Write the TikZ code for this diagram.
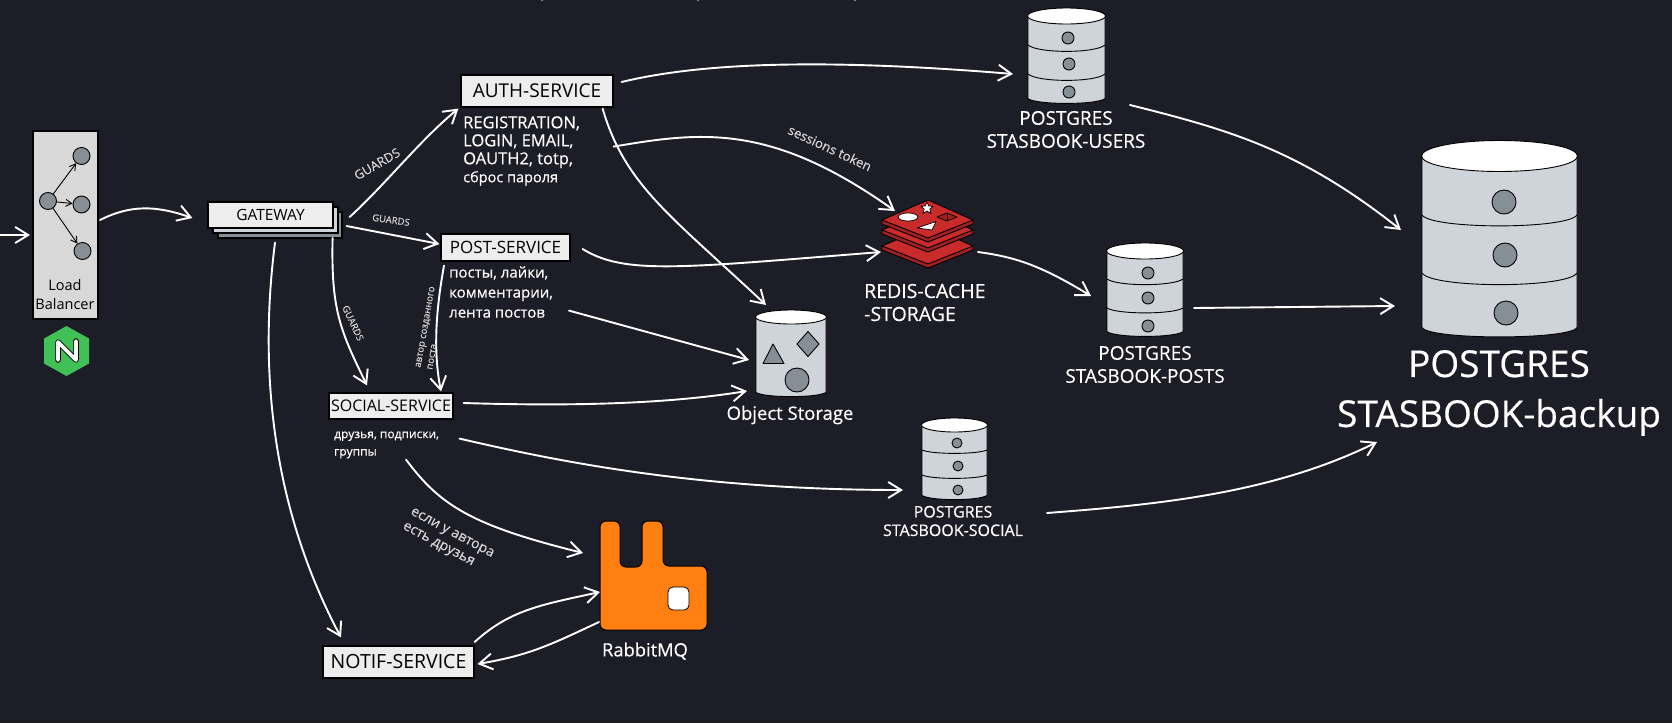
\documentclass[tikz,border=0pt]{standalone}
\usepackage{fontspec}
\setmainfont{Open Sans}
\newfontfamily\hw{Open Sans}[FakeBold=0.35]
\newcommand{\lf}[2]{\hw\fontsize{#1}{#2}\selectfont}
\usetikzlibrary{arrows.meta,calc}
\definecolor{bgc}{HTML}{1D1D27}
\definecolor{boxc}{HTML}{EDEDED}
\definecolor{gsec}{HTML}{CED4DA}
\definecolor{gdot}{HTML}{868E96}
\definecolor{lbfill}{HTML}{D8D8D8}
\definecolor{labc}{HTML}{D6D6D6}
\definecolor{rabbitc}{HTML}{FF7F11}
\definecolor{nginxc}{HTML}{40C057}
\definecolor{redc}{HTML}{C92A2A}
\definecolor{redd}{HTML}{A32020}
\tikzset{
  conn/.style={draw=white,line width=1.9pt,line cap=round,-{Straight Barb[length=13pt,width=16pt]}},
  svcbox/.style={draw=black,line width=1.2pt,fill=boxc,inner sep=0pt,text=black,font=\fontsize{#1}{#1}\selectfont},
  anchorbox/.style={inner sep=0pt,outer sep=0pt},
  whitelab/.style={text=white,inner sep=0pt,align=#1},
  greylab/.style={text=labc,inner sep=0pt,align=center},
  lbdot/.style={circle,draw=black,line width=0.9pt,fill=gdot,minimum size=17pt,inner sep=0pt},
  lbarrow/.style={draw=black,line width=0.9pt,-{Straight Barb[length=6pt,width=7pt]}},
  secedge/.style={draw=black,line width=0.9pt}
}
% cylinder: x1, x2, top-ellipse centre y, ry, bottom y
\newcommand{\dbcyl}[5]{%
  \pgfmathsetmacro{\cxm}{(#1+#2)/2}
  \pgfmathsetmacro{\rxm}{(#2-#1)/2+0.5}
  \pgfmathsetmacro{\sidey}{#5-#4*0.8}
  \pgfmathsetmacro{\ctrly}{#5+#4*0.0}
  \fill[gsec] (#1,#3) -- (#1,\sidey) .. controls (#1+8,\ctrly) and (#2-8,\ctrly) .. (#2,\sidey) -- (#2,#3) -- cycle;
  \draw[secedge] (#1,#3) -- (#1,\sidey) .. controls (#1+8,\ctrly) and (#2-8,\ctrly) .. (#2,\sidey) -- (#2,#3);
  \draw[secedge,fill=white] (\cxm,#3) ellipse [x radius=\rxm,y radius=#4];
}
% band across a cylinder: x1, x2, edge y, lowest y
\newcommand{\dbband}[4]{%
  \draw[secedge] (#1,#3) .. controls (#1+10,#4+1.5) and (#2-10,#4+1.5) .. (#2,#3);
}
\newcommand{\dbdot}[3]{\draw[secedge,fill=gdot] (#1,#2) circle (#3);}
\newcommand{\redislayer}[1]{%
  \fill[redd] (882,220+#1) -- (928,238+#1) -- (973,220+#1) -- (973,224+#1) -- (928,242+#1) -- (882,224+#1) -- cycle;
  \draw[draw=black,line width=0.9pt,fill=redc,line join=round] (882,220+#1) -- (928,200+#1) -- (973,220+#1) -- (928,238+#1) -- cycle;
  \draw[draw=black,line width=0.9pt,line join=round] (882,220+#1) -- (882,224+#1) -- (928,242+#1) -- (973,224+#1) -- (973,220+#1);
}
\begin{document}
\begin{tikzpicture}[x=1pt,y=-1pt]
\useasboundingbox (0,0) rectangle (1672,723);
\fill[bgc] (0,0) rectangle (1672,723);
% remains of cut-off marks on the top edge
\fill[gray] (541,0) rectangle (543,1) (697,0) rectangle (699,1) (854,0) rectangle (856,1);

% Load balancer
\node[anchorbox,draw=black,line width=1.2pt,fill=lbfill,minimum width=65pt,minimum height=188pt] (lb) at (65.5,225) {};
\node[lbdot] (lbc) at (48,201) {};
\node[lbdot] (lbt) at (81.5,156) {};
\node[lbdot] (lbm) at (81.5,204.5) {};
\node[lbdot] (lbb) at (82.5,251) {};
\draw[lbarrow] (lbc) -- (lbt);
\draw[lbarrow] (lbc) -- (lbm);
\draw[lbarrow] (lbc) -- (lbb);
\node[inner sep=0pt,align=center,text=black,font=\fontsize{14.5}{19}\selectfont] (lblab) at (65,295) {Load\\Balancer};

% nginx logo
\fill[nginxc] (66.5,326) -- (89,338.5) -- (89,363.5) -- (66.5,376) -- (44,363.5) -- (44,338.5) -- cycle;
\draw[black,line width=5.5pt,line join=round,line cap=round] (58,360) -- (58,342) -- (76,360) -- (76,341);
\draw[white,line width=3.6pt,line join=round,line cap=round] (58,360) -- (58,342) -- (76,360) -- (76,341);

% Gateway stack
\draw[draw=black,line width=1.2pt,fill=gdot] (218,212) rectangle (342,238);
\draw[draw=black,line width=1.2pt,fill=gsec] (213,207) rectangle (338,233);
\node[svcbox=15.5,minimum width=125pt,minimum height=26pt] (gw) at (270.5,215) {GATEWAY};

% services
\node[svcbox=19,minimum width=152pt,minimum height=32pt] (auth) at (537,91) {AUTH-SERVICE};
\node[svcbox=17,minimum width=129pt,minimum height=27pt] (post) at (505.5,247.5) {POST-SERVICE};
\node[svcbox=16,minimum width=124pt,minimum height=26pt] (social) at (391,406) {SOCIAL-SERVICE};
\node[svcbox=19.5,minimum width=151pt,minimum height=32pt] (notif) at (398.5,662) {NOTIF-SERVICE};

% service descriptions
\node[whitelab=left,anchor=west,font=\lf{16.5}{18}] (authtxt) at (463,151) {REGISTRATION,\\LOGIN, EMAIL,\\OAUTH2, totp,\\{\lf{14.5}{18}сброс пароля}};
\node[whitelab=left,anchor=west,font=\lf{15}{20}] (posttxt) at (449,292) {посты, лайки,\\комментарии,\\лента постов};
\node[whitelab=left,anchor=west,font=\lf{12}{17.5}] (socialtxt) at (334,445) {друзья, подписки,\\группы};

% Object storage
\node[anchorbox,minimum width=70pt,minimum height=88pt] (obj) at (791,354) {};
\dbcyl{756}{826}{317}{7}{398}
\draw[secedge,fill=gdot,line join=round] (773,344) -- (784,363.5) -- (763,363.5) -- cycle;
\draw[secedge,fill=gdot,line join=round] (808,331.5) -- (819,344) -- (808,356.5) -- (797,344) -- cycle;
\dbdot{797}{380}{12}
\node[whitelab=center,font=\lf{18.5}{20}] (objlab) at (790,415) {Object Storage};

% Redis
\node[anchorbox,minimum width=91pt,minimum height=67pt] (redis) at (927.5,233.5) {};
\redislayer{26}
\redislayer{10}
\redislayer{0}
\draw[black,line width=0.7pt,fill=white] (908,217) ellipse [x radius=10,y radius=4];
\draw[black,line width=0.7pt,fill=white,line join=round] (927,202) -- (928.8,206) -- (933,206.3) -- (929.8,209) -- (931,213.5) -- (927,211) -- (923,213.5) -- (924.2,209) -- (921,206.3) -- (925.2,206) -- cycle;
\draw[black,line width=0.7pt,fill=white,line join=round] (917,228) -- (936,221.5) -- (932,230) -- cycle;
\draw[black,line width=0.7pt,fill=redd,line join=round] (937,217) -- (947,213) -- (957,217) -- (947,221) -- cycle;
\draw[black,line width=0.7pt] (947,213) -- (947,221);
\node[whitelab=left,anchor=west,font=\lf{19.5}{23}] (redislab) at (864,302.5) {REDIS-CACHE\\-STORAGE};

% Postgres users
\node[anchorbox,minimum width=77pt,minimum height=97pt] (dbusers) at (1066.5,56.5) {};
\dbcyl{1028}{1105}{16}{8}{105}
\dbband{1028}{1105}{45}{52}
\dbband{1028}{1105}{74}{81}
\dbdot{1068}{38}{6}
\dbdot{1069}{64}{6}
\dbdot{1069}{92}{6}
\node[whitelab=center,font=\lf{19}{23}] (userslab) at (1066,129.5) {POSTGRES\\STASBOOK-USERS};

% Postgres posts
\node[anchorbox,minimum width=76pt,minimum height=95pt] (dbposts) at (1145,290.5) {};
\dbcyl{1107}{1183}{251}{8}{338}
\dbband{1107}{1183}{279}{285}
\dbband{1107}{1183}{308}{313}
\dbdot{1148}{273}{6}
\dbdot{1148}{298}{6}
\dbdot{1148}{326}{6}
\node[whitelab=center,font=\lf{19}{23}] (postslab) at (1145,364.5) {POSTGRES\\STASBOOK-POSTS};

% Postgres social
\node[anchorbox,minimum width=65pt,minimum height=83pt] (dbsocial) at (954.5,459.5) {};
\dbcyl{922}{987}{425}{7}{501}
\dbband{922}{987}{450}{453}
\dbband{922}{987}{475}{478}
\dbdot{957}{443}{5}
\dbdot{958}{466}{5}
\dbdot{958}{490}{5}
\node[whitelab=center,font=\lf{16}{18.5}] (sociallab) at (953,521) {POSTGRES\\STASBOOK-SOCIAL};

% Postgres backup
\node[anchorbox,minimum width=155pt,minimum height=200pt] (dbbig) at (1499.5,240) {};
\dbcyl{1422}{1577}{156}{15.5}{340}
\dbband{1422}{1577}{215}{228}
\dbband{1422}{1577}{273}{287}
\dbdot{1504}{202}{12}
\dbdot{1505}{255}{12}
\dbdot{1506}{313}{12}
\node[whitelab=center,font=\lf{37}{50}] (biglab) at (1499,393) {POSTGRES\\STASBOOK-backup};

% RabbitMQ
\node[anchorbox,minimum width=107pt,minimum height=109pt] (rabbit) at (653.5,575.5) {};
\draw[draw=black,line width=1pt,fill=rabbitc,line join=round,rounded corners=6pt] (600,630) -- (600,521) -- (620,521) -- (620,567) -- (642,567) -- (642,521) -- (663,521) -- (663,566) -- (707,566) -- (707,630) -- cycle;
\draw[draw=black,line width=0.8pt,fill=white,rounded corners=5pt] (668,587) rectangle (689,610);
\node[whitelab=center,font=\lf{18.3}{20}] (rabbitlab) at (645,651) {RabbitMQ};

% connectors
\coordinate (inlet) at (0,235);
\draw[conn] (inlet) -- ([shift={(-3,10)}]lb.west);
\draw[conn] ([shift={(2,-5)}]lb.east) .. controls (130,205) and (155,205) .. ([shift={(-15,3)}]gw.west);
\draw[conn] ([shift={(16,2)}]gw.east) .. controls (385,185) and (420,140) .. ([shift={(-2,1)}]auth.south west);
\draw[conn] ([shift={(13,11)}]gw.east) -- ([shift={(-1,-3.5)}]post.west);
\draw[conn] ([shift={(-1,23)}]gw.east) .. controls (331,310) and (340,330) .. ([shift={(-24,-7)}]social.north);
\draw[conn] ([shift={(4.5,14)}]gw.south) .. controls (260,360) and (268,500) .. ([shift={(-57.5,-8)}]notif.north);
\draw[conn] ([shift={(8,-9)}]auth.east) .. controls (700,63) and (820,58) .. ([shift={(-15,17.5)}]dbusers.west);
\draw[conn] ([shift={(0,39)}]auth.south east) .. controls (700,132) and (770,122) .. ([shift={(-32.5,11)}]redis.north);
\draw[conn] ([shift={(-11,1)}]auth.south east) .. controls (625,185) and (670,215) .. ([shift={(-25,-5)}]obj.north);
\draw[conn] ([shift={(12,1.5)}]post.east) .. controls (625,275) and (680,268) .. ([shift={(-1,18.5)}]redis.west);
\draw[conn] ([shift={(-61.5,4)}]post.south) .. controls (436,310) and (433,350) .. ([shift={(50,-1)}]social.north);
\draw[conn] ([shift={(63.5,49)}]post.south) -- ([shift={(-7,6)}]obj.west);
\draw[conn] ([shift={(10,-3)}]social.east) .. controls (560,406) and (660,405) .. ([shift={(-9,37)}]obj.west);
\draw[conn] ([shift={(6,19)}]social.south east) .. controls (560,462) and (700,490) .. ([shift={(-19,30.5)}]dbsocial.west);
\draw[conn] ([shift={(15,40)}]social.south) .. controls (440,505) and (470,525) .. ([shift={(-17,-22.5)}]rabbit.west);
\draw[conn] ([shift={(0,-20)}]notif.east) .. controls (510,610) and (540,605) .. ([shift={(0,16.5)}]rabbit.west);
\draw[conn] ([shift={(-1,46.5)}]rabbit.west) .. controls (550,645) and (530,655) .. ([shift={(3,2)}]notif.east);
\draw[conn] ([shift={(25,0)}]dbusers.south east) .. controls (1230,130) and (1300,150) .. ([shift={(-21,-10)}]dbbig.west);
\draw[conn] ([shift={(5,18.5)}]redis.east) .. controls (1015,257) and (1040,265) .. ([shift={(-16,5.5)}]dbposts.west);
\draw[conn] ([shift={(11,17.5)}]dbposts.east) -- ([shift={(-27,66)}]dbbig.west);
\draw[conn] ([shift={(60,12)}]dbsocial.south east) .. controls (1150,505) and (1270,495) .. ([shift={(-45,202)}]dbbig.west);

% connector labels
\node[greylab,rotate=30,font=\lf{12.7}{14}] (g1) at (377,164) {GUARDS};
\node[greylab,rotate=-8,font=\lf{9.5}{10}] (g2) at (391,220) {GUARDS};
\node[greylab,rotate=-65,font=\lf{9.5}{10}] (g3) at (353,323) {GUARDS};
\node[greylab,align=left,rotate=80,font=\lf{9.5}{12}] (authorlab) at (431,328) {автор созданного\\поста};
\node[greylab,rotate=-25,font=\lf{13.2}{14}] (sesslab) at (830,148) {sessions token};
\node[greylab,align=left,rotate=-28,font=\lf{14}{16.5}] (friendslab) at (448,541) {если у автора\\есть друзья};
\end{tikzpicture}
\end{document}
